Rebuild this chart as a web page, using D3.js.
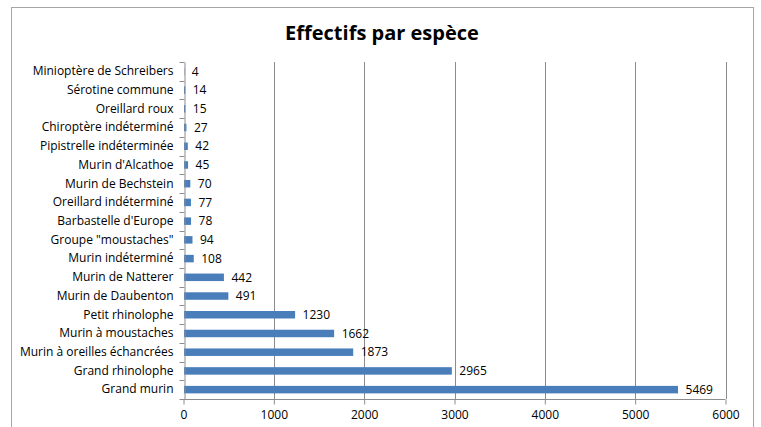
<!DOCTYPE html>
<html>
<head>
<meta charset="utf-8">
<script src="https://cdn.jsdelivr.net/npm/d3@7"></script>
<style>
  body { margin: 0; background: #fff; }
  text { font-family: "Open Sans", "DejaVu Sans", sans-serif; }
</style>
</head>
<body>
<div class="chart"></div>
<script>
const species = [
  "Minioptère de Schreibers", "Sérotine commune", "Oreillard roux",
  "Chiroptère indéterminé", "Pipistrelle indéterminée", "Murin d'Alcathoe",
  "Murin de Bechstein", "Oreillard indéterminé", "Barbastelle d'Europe",
  "Groupe \"moustaches\"", "Murin indéterminé", "Murin de Natterer",
  "Murin de Daubenton", "Petit rhinolophe", "Murin à moustaches",
  "Murin à oreilles échancrées", "Grand rhinolophe", "Grand murin"
];
const counts = [4, 14, 15, 27, 42, 45, 70, 77, 78, 94, 108, 442, 491, 1230, 1662, 1873, 2965, 5469];
const xTicks = [0, 1000, 2000, 3000, 4000, 5000, 6000];

const width = 761, height = 427;
const svg = d3.select(".chart").append("svg")
  .attr("width", width).attr("height", height);

// chart frame
svg.append("rect")
  .attr("x", 11.5).attr("y", 7.5)
  .attr("width", 742).attr("height", 440)
  .attr("fill", "none").attr("stroke", "#a6a6a6");

svg.append("text")
  .attr("x", 382).attr("y", 40)
  .attr("text-anchor", "middle")
  .attr("font-size", 20).attr("font-weight", "bold")
  .text("Effectifs par espèce");

const x = d3.scaleLinear().domain([0, 6000]).range([183.5, 725.5]);
const y = d3.scaleBand().domain(species).range([62, 399]).paddingInner(0.6).paddingOuter(0.3);
const yb = d3.scaleBand().domain(species).range([62, 399]);

// gridlines
svg.append("g").selectAll("line")
  .data(xTicks.slice(1))
  .join("line")
  .attr("x1", d => Math.round(x(d)) + 0.5).attr("x2", d => Math.round(x(d)) + 0.5)
  .attr("y1", 62).attr("y2", 399)
  .attr("stroke", "#8c8c8c");

// bars
svg.append("g").selectAll("rect")
  .data(counts)
  .join("rect")
  .attr("x", x(0) + 0.5)
  .attr("y", (d, i) => y(species[i]))
  .attr("width", d => x(d) - x(0))
  .attr("height", y.bandwidth())
  .attr("fill", "#4a7ebb");

// value labels
svg.append("g").selectAll("text")
  .data(counts)
  .join("text")
  .attr("x", d => x(d) + 8)
  .attr("y", (d, i) => yb(species[i]) + yb.bandwidth() / 2)
  .attr("dy", "0.35em")
  .attr("font-size", 12)
  .text(d => d);

// y axis
const yAxis = svg.append("g")
  .attr("transform", `translate(${Math.round(x(0)) + 0.5},0)`)
  .call(d3.axisLeft(yb).tickSize(0).tickPadding(11));
yAxis.select(".domain").attr("stroke", "#8c8c8c");
yAxis.selectAll("text").attr("font-size", 12).attr("fill", "#000");
yAxis.append("g").selectAll("line")
  .data(d3.range(species.length + 1))
  .join("line")
  .attr("x1", -5).attr("x2", 0)
  .attr("y1", i => Math.round(62 + i * yb.step()) + 0.5)
  .attr("y2", i => Math.round(62 + i * yb.step()) + 0.5)
  .attr("stroke", "#8c8c8c");

// x axis
const xAxis = svg.append("g")
  .attr("transform", "translate(0,399.5)")
  .call(d3.axisBottom(x).tickValues(xTicks).tickFormat(d3.format("d")).tickSize(5).tickPadding(6));
xAxis.select(".domain").attr("stroke", "#8c8c8c").attr("d", `M${x(0)},0H${x(6000)}`);
xAxis.selectAll(".tick line").attr("stroke", "#8c8c8c");
xAxis.selectAll("text").attr("font-size", 12).attr("fill", "#000");
</script>
</body>
</html>
